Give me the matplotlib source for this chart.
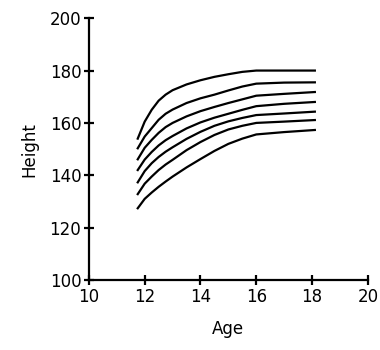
import matplotlib
matplotlib.use("Agg")
import matplotlib.pyplot as plt

ages = [11.75, 12.0, 12.25, 12.5, 12.75, 13.0, 13.5, 14.0, 14.5, 15.0, 15.5, 16.0, 17.0, 18.1]

# height curves, top to bottom
curve1 = [154.0, 160.5, 165.0, 168.5, 170.8, 172.5, 174.7, 176.3, 177.6, 178.6, 179.5, 180.0, 180.0, 180.0]
curve2 = [150.3, 154.8, 158.0, 161.2, 163.5, 165.1, 167.6, 169.4, 170.8, 172.4, 173.9, 175.0, 175.4, 175.5]
curve3 = [146.1, 150.5, 153.5, 156.2, 158.4, 160.0, 162.5, 164.5, 166.1, 167.6, 169.0, 170.4, 171.1, 171.8]
curve4 = [142.0, 146.0, 148.9, 151.4, 153.4, 155.0, 157.9, 160.2, 162.0, 163.5, 165.0, 166.4, 167.3, 168.0]
curve5 = [137.3, 141.6, 144.6, 147.0, 149.0, 150.7, 153.9, 156.6, 158.9, 160.6, 161.9, 163.0, 163.6, 164.3]
curve6 = [132.8, 136.8, 139.5, 142.0, 144.1, 145.9, 149.6, 152.7, 155.4, 157.5, 158.9, 160.0, 160.5, 161.1]
curve7 = [127.4, 131.0, 133.4, 135.6, 137.6, 139.5, 143.0, 146.2, 149.3, 152.0, 154.0, 155.6, 156.5, 157.3]

curves = [curve1, curve2, curve3, curve4, curve5, curve6, curve7]

x_ticks = [10, 12, 14, 16, 18, 20]
y_ticks = [100, 120, 140, 160, 180, 200]

fig = plt.figure(figsize=(3.8, 3.5), dpi=100)
ax = fig.add_axes([0.234, 0.2, 0.734, 0.748])

for c in curves:
    ax.plot(ages, c, color="black", linewidth=1.6)

ax.set_xlim(10, 20)
ax.set_ylim(100, 200)
ax.set_xticks(x_ticks)
ax.set_yticks(y_ticks)

for side in ["top", "right"]:
    ax.spines[side].set_visible(False)
for side in ["left", "bottom"]:
    ax.spines[side].set_linewidth(1.6)

ax.tick_params(direction="inout", length=7, width=1.6, labelsize=12, pad=2)
ax.set_xlabel("Age", fontsize=12, labelpad=10)
ax.set_ylabel("Height", fontsize=12, labelpad=8)

fig.savefig("out.png", dpi=100)
